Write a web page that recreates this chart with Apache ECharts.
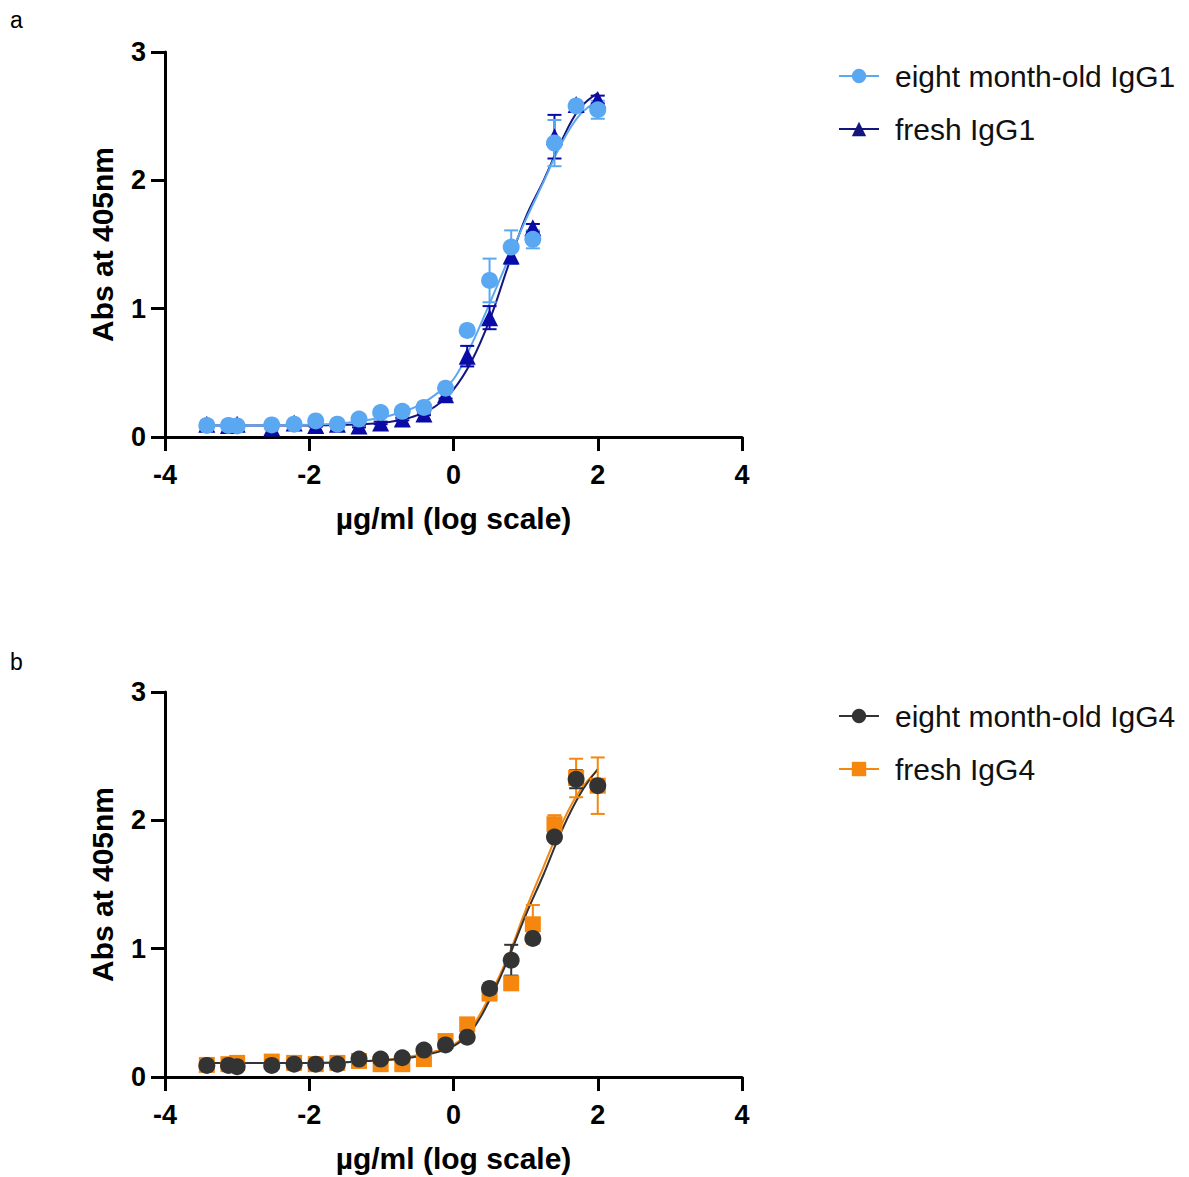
<!DOCTYPE html>
<html>
<head>
<meta charset="utf-8">
<title>IgG1 / IgG4 ELISA</title>
<script src="https://cdn.jsdelivr.net/npm/echarts@6/dist/echarts.min.js"></script>
<style>
  html, body { margin: 0; padding: 0; background: #fff; }
  #main { width: 1189px; height: 1177px; }
</style>
</head>
<body>
<div id="main"></div>
<script>
// log10 concentrations (µg/ml), same for all four series
var doseX = [-3.42, -3.12, -3.0, -2.52, -2.21, -1.91, -1.61, -1.31, -1.01, -0.71, -0.41, -0.11, 0.19, 0.50, 0.80, 1.10, 1.40, 1.70, 2.0]

// panel a
var oldIgG1 = [0.09, 0.09, 0.086, 0.094, 0.10, 0.125, 0.10, 0.14, 0.19, 0.20, 0.23, 0.38, 0.83, 1.22, 1.48, 1.54, 2.29, 2.58, 2.55]
var oldIgG1Err = [0.01, 0.01, 0.01, 0.01, 0.01, 0.01, 0.01, 0.01, 0.01, 0.01, 0.01, 0.02, 0.02, 0.17, 0.13, 0.07, 0.18, 0.02, 0.07]
var freshIgG1 = [0.10, 0.09, 0.10, 0.07, 0.11, 0.09, 0.10, 0.085, 0.11, 0.14, 0.18, 0.33, 0.63, 0.93, 1.41, 1.63, 2.34, 2.59, 2.63]
var freshIgG1Err = [0.01, 0.01, 0.01, 0.01, 0.01, 0.01, 0.01, 0.01, 0.01, 0.01, 0.01, 0.03, 0.08, 0.09, 0.06, 0.03, 0.17, 0.02, 0.03]

// panel b
var oldIgG4 = [0.09, 0.09, 0.08, 0.09, 0.10, 0.10, 0.10, 0.14, 0.14, 0.15, 0.21, 0.25, 0.31, 0.69, 0.91, 1.08, 1.87, 2.32, 2.27]
var oldIgG4Err = [0.01, 0.01, 0.01, 0.01, 0.01, 0.01, 0.01, 0.01, 0.01, 0.01, 0.01, 0.01, 0.02, 0.02, 0.12, 0.02, 0.02, 0.07, 0.02]
var freshIgG4 = [0.094, 0.10, 0.11, 0.12, 0.11, 0.10, 0.11, 0.125, 0.10, 0.10, 0.14, 0.28, 0.41, 0.65, 0.73, 1.19, 1.97, 2.33, 2.27]
var freshIgG4Err = [0.01, 0.01, 0.01, 0.01, 0.01, 0.01, 0.01, 0.01, 0.01, 0.01, 0.01, 0.02, 0.02, 0.03, 0.03, 0.15, 0.07, 0.15, 0.22]

// fitted curves
var curveX = [-3.42, -2.5, -2, -1.5, -1, -0.75, -0.5, -0.25, 0, 0.25, 0.5, 0.75, 1, 1.25, 1.5, 1.75, 2]
var oldIgG1Fit = [0.09, 0.09, 0.095, 0.11, 0.15, 0.19, 0.24, 0.33, 0.45, 0.72, 1.04, 1.37, 1.69, 1.99, 2.29, 2.51, 2.62]
var freshIgG1Fit = [0.09, 0.09, 0.09, 0.095, 0.11, 0.13, 0.17, 0.24, 0.37, 0.59, 0.91, 1.32, 1.71, 2.0, 2.31, 2.56, 2.68]
var oldIgG4Fit = [0.11, 0.11, 0.11, 0.115, 0.13, 0.14, 0.16, 0.19, 0.24, 0.36, 0.60, 0.91, 1.26, 1.58, 1.92, 2.20, 2.40]
var freshIgG4Fit = [0.11, 0.11, 0.11, 0.115, 0.13, 0.145, 0.17, 0.20, 0.25, 0.385, 0.63, 0.93, 1.30, 1.64, 1.97, 2.23, 2.39]

var xTicks = [-4, -2, 0, 2, 4]
var yTicks = [0, 1, 2, 3]

var names = ['eight month-old IgG1', 'fresh IgG1', 'eight month-old IgG4', 'fresh IgG4']
var colors = {
  lightBlue: '#5BA8F2',
  navy: '#0A0AA6',
  navyLine: '#15157E',
  dark: '#333333',
  orange: '#F5870F'
}

var font = 'Liberation Sans, Arial, sans-serif'

function pairs (xs, ys) {
  return xs.map(function (x, i) { return [x, ys[i]] })
}
function errData (xs, ys, es) {
  return xs.map(function (x, i) { return [x, ys[i] - es[i], ys[i] + es[i]] })
}

function xAxisFor (idx) {
  return {
    type: 'value',
    gridIndex: idx,
    min: xTicks[0],
    max: xTicks[xTicks.length - 1],
    interval: 2,
    splitLine: { show: false },
    axisLine: { onZero: false, lineStyle: { color: '#000', width: 3 } },
    axisTick: { length: 14, lineStyle: { color: '#000', width: 3 } },
    axisLabel: { color: '#000', fontFamily: font, fontWeight: 'bold', fontSize: 27, margin: 24 },
    name: 'µg/ml (log scale)',
    nameLocation: 'middle',
    nameGap: 66,
    nameTextStyle: { color: '#000', fontFamily: font, fontWeight: 'bold', fontSize: 30 }
  }
}
function yAxisFor (idx) {
  return {
    type: 'value',
    gridIndex: idx,
    min: yTicks[0],
    max: yTicks[yTicks.length - 1],
    interval: 1,
    splitLine: { show: false },
    axisLine: { show: true, onZero: false, lineStyle: { color: '#000', width: 3 } },
    axisTick: { show: true, length: 14, lineStyle: { color: '#000', width: 3 } },
    axisLabel: { color: '#000', fontFamily: font, fontWeight: 'bold', fontSize: 27, margin: 19 },
    name: 'Abs at 405nm',
    nameLocation: 'middle',
    nameGap: 48,
    nameTextStyle: { color: '#000', fontFamily: font, fontWeight: 'bold', fontSize: 30 }
  }
}

function curve (name, idx, ys, color, symbol) {
  return {
    name: name,
    type: 'line',
    xAxisIndex: idx,
    yAxisIndex: idx,
    data: pairs(curveX, ys),
    smooth: 0.4,
    symbol: symbol,
    showSymbol: false,
    color: color,
    lineStyle: { width: 2, color: color },
    z: 1
  }
}

function errorBars (idx, ys, es, color) {
  return {
    type: 'custom',
    xAxisIndex: idx,
    yAxisIndex: idx,
    data: errData(doseX, ys, es),
    z: 2,
    renderItem: function (params, api) {
      var lo = api.coord([api.value(0), api.value(1)])
      var hi = api.coord([api.value(0), api.value(2)])
      var w = 7
      var st = { stroke: color, lineWidth: 2 }
      return {
        type: 'group',
        children: [
          { type: 'line', shape: { x1: hi[0], y1: hi[1], x2: lo[0], y2: lo[1] }, style: st },
          { type: 'line', shape: { x1: hi[0] - w, y1: hi[1], x2: hi[0] + w, y2: hi[1] }, style: st },
          { type: 'line', shape: { x1: lo[0] - w, y1: lo[1], x2: lo[0] + w, y2: lo[1] }, style: st }
        ]
      }
    }
  }
}

function points (name, idx, ys, color, symbol, size) {
  return {
    name: name,
    type: 'scatter',
    xAxisIndex: idx,
    yAxisIndex: idx,
    data: pairs(doseX, ys),
    symbol: symbol,
    symbolSize: size,
    itemStyle: { color: color, opacity: 1 },
    z: 3
  }
}

function legendFor (top, data) {
  return {
    orient: 'vertical',
    left: 833,
    top: top,
    itemWidth: 40,
    itemHeight: 18,
    itemGap: 23,
    selectedMode: false,
    textStyle: { color: '#111', fontFamily: font, fontSize: 30, lineHeight: 30, padding: [0, 0, 0, 11] },
    data: data
  }
}

var chart = echarts.init(document.getElementById('main'), null, { renderer: 'svg' })

chart.setOption({
  animation: false,
  backgroundColor: '#fff',
  grid: [
    { left: 165, top: 52, width: 577, height: 385 },
    { left: 165, top: 692, width: 577, height: 385 }
  ],
  xAxis: [xAxisFor(0), xAxisFor(1)],
  yAxis: [yAxisFor(0), yAxisFor(1)],
  legend: [
    legendFor(56, [names[0], names[1]]),
    legendFor(696, [names[2], names[3]])
  ],
  graphic: [
    { type: 'text', left: 10, top: 8, style: { text: 'a', fontFamily: font, fontSize: 23, fill: '#000' } },
    { type: 'text', left: 10, top: 650, style: { text: 'b', fontFamily: font, fontSize: 23, fill: '#000' } }
  ],
  series: [
    curve(names[1], 0, freshIgG1Fit, colors.navyLine, 'triangle'),
    curve(names[0], 0, oldIgG1Fit, colors.lightBlue, 'circle'),
    curve(names[3], 1, freshIgG4Fit, colors.orange, 'rect'),
    curve(names[2], 1, oldIgG4Fit, colors.dark, 'circle'),

    errorBars(0, freshIgG1, freshIgG1Err, colors.navy),
    errorBars(0, oldIgG1, oldIgG1Err, colors.lightBlue),
    errorBars(1, freshIgG4, freshIgG4Err, colors.orange),
    errorBars(1, oldIgG4, oldIgG4Err, colors.dark),

    points(names[1], 0, freshIgG1, colors.navy, 'triangle', 17),
    points(names[0], 0, oldIgG1, colors.lightBlue, 'circle', 17),
    points(names[3], 1, freshIgG4, colors.orange, 'rect', 16),
    points(names[2], 1, oldIgG4, colors.dark, 'circle', 17)
  ]
})
</script>
</body>
</html>
